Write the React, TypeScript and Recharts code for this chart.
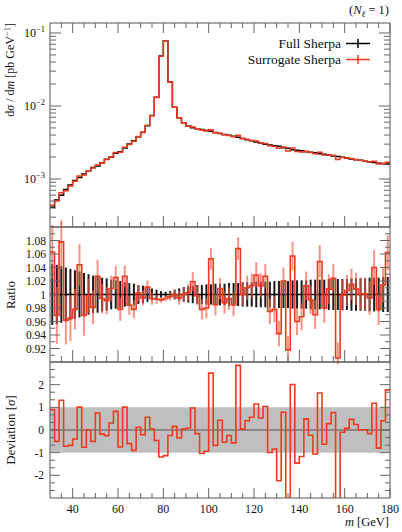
import React from 'react';
import {
  ComposedChart,
  ErrorBar,
  Line,
  ReferenceArea,
  ReferenceLine,
  Scatter,
  XAxis,
  YAxis,
} from 'recharts';

// 2 GeV bins from 30 to 180 GeV
const M_LOW = 30;
const M_HIGH = 180;
const BIN_WIDTH = 2;

// Full Sherpa dσ/dm per bin [pb/GeV]
const fullSherpa = [
  4.1e-4, 5.15e-4, 6.0e-4, 7.2e-4, 8.3e-4, 9.5e-4, 1.05e-3, 1.17e-3, 1.3e-3, 1.44e-3,
  1.51e-3, 1.67e-3, 1.86e-3, 1.98e-3, 2.25e-3, 2.37e-3, 2.66e-3, 3.01e-3, 3.35e-3, 3.8e-3,
  4.36e-3, 5.38e-3, 7.38e-3, 1.32e-2, 4.84e-2, 7.85e-2, 2.13e-2, 9.6e-3, 6.92e-3, 5.91e-3,
  5.32e-3, 5.04e-3, 4.89e-3, 4.78e-3, 4.62e-3, 4.5e-3, 4.35e-3, 4.2e-3, 4.08e-3, 3.96e-3,
  3.84e-3, 3.72e-3, 3.6e-3, 3.46e-3, 3.33e-3, 3.22e-3, 3.1e-3, 2.98e-3, 2.92e-3, 2.86e-3,
  2.8e-3, 2.68e-3, 2.64e-3, 2.52e-3, 2.48e-3, 2.43e-3, 2.36e-3, 2.33e-3, 2.29e-3, 2.21e-3,
  2.18e-3, 2.12e-3, 2.06e-3, 2.04e-3, 1.98e-3, 1.93e-3, 1.88e-3, 1.84e-3, 1.8e-3, 1.75e-3,
  1.72e-3, 1.68e-3, 1.64e-3, 1.62e-3, 1.6e-3,
];

// Surrogate / Full per bin
const ratio = [
  1.063, 0.969, 1.078, 0.962, 0.965, 0.978, 1.044, 0.969, 0.998, 0.981,
  1.027, 0.994, 0.991, 1.009, 1.025, 0.978, 1.027, 0.984, 0.978, 1.002,
  0.995, 1.011, 0.994, 0.993, 0.992, 0.994, 0.997, 1.0, 0.995, 1.0,
  1.003, 1.019, 0.998, 0.978, 0.98, 1.053, 0.985, 1.009, 0.988, 0.994,
  0.985, 1.068, 1.0, 1.01, 1.013, 1.029, 1.013, 1.027, 0.975, 0.978,
  0.942, 1.02, 0.918, 1.057, 0.96, 0.967, 1.013, 0.992, 0.97, 1.049,
  0.98, 1.008, 1.024, 0.906, 0.999, 1.006, 1.015, 1.008, 1.001, 1.001,
  0.995, 1.04, 0.978, 1.014, 1.062,
];

// relative stat. uncertainty of the surrogate (red bars)
const surrogateErr = [
  0.04, 0.042, 0.04, 0.036, 0.034, 0.03, 0.031, 0.03, 0.026, 0.025,
  0.024, 0.022, 0.02, 0.019, 0.018, 0.017, 0.016, 0.014, 0.013, 0.012,
  0.011, 0.01, 0.009, 0.007, 0.004, 0.004, 0.006, 0.008, 0.01, 0.011,
  0.012, 0.014, 0.014, 0.015, 0.015, 0.016, 0.016, 0.016, 0.016, 0.017,
  0.017, 0.017, 0.017, 0.018, 0.018, 0.019, 0.018, 0.018, 0.019, 0.019,
  0.019, 0.02, 0.02, 0.021, 0.02, 0.02, 0.021, 0.021, 0.021, 0.024,
  0.022, 0.022, 0.021, 0.023, 0.023, 0.023, 0.023, 0.024, 0.024, 0.024,
  0.025, 0.026, 0.023, 0.026, 0.026,
];

// relative stat. uncertainty of the full Sherpa reference (black bars)
const fullErr = [
  0.045, 0.044, 0.042, 0.04, 0.038, 0.036, 0.034, 0.032, 0.03, 0.028,
  0.027, 0.025, 0.024, 0.022, 0.021, 0.02, 0.018, 0.017, 0.016, 0.014,
  0.013, 0.011, 0.009, 0.007, 0.005, 0.004, 0.005, 0.007, 0.009, 0.011,
  0.012, 0.013, 0.014, 0.014, 0.015, 0.015, 0.016, 0.016, 0.016, 0.017,
  0.017, 0.017, 0.018, 0.018, 0.018, 0.019, 0.019, 0.019, 0.019, 0.02,
  0.02, 0.02, 0.02, 0.021, 0.021, 0.021, 0.021, 0.022, 0.022, 0.022,
  0.022, 0.023, 0.023, 0.023, 0.023, 0.023, 0.024, 0.024, 0.024, 0.024,
  0.025, 0.025, 0.025, 0.026, 0.026,
];

// deviation in units of sigma
const deviation = [
  0.9, -0.5, 1.31, -0.72, -0.68, -0.4, 1.01, -0.76, 0.01, -0.5,
  0.75, -0.18, -0.25, 0.31, 0.82, -0.75, 1.01, -0.6, -0.9, 0.12,
  -0.21, 0.56, 0.04, -0.46, -1.19, -1.13, -0.24, 0.16, -0.35, 0.04,
  0.09, 0.97, -0.16, -1.04, -0.94, 2.51, -0.68, 0.43, -0.54, -0.24,
  -0.57, 2.85, 0.04, 0.41, 0.56, 1.15, 0.53, 1.04, -0.99, -0.84,
  -2.24, 0.78, -3.6, 2.01, -1.46, -1.17, 0.49, -0.23, -1.06, 1.63,
  -0.63, 0.28, 0.77, -4.0, -0.1, 0.07, 0.47, 0.24, 0.01, 0.01,
  -0.16, 1.18, -0.8, 0.41, 1.77,
];

const N = fullSherpa.length;
const edges = Array.from({ length: N + 1 }, (_, i) => M_LOW + i * BIN_WIDTH);
const centers = edges.slice(0, N).map((e) => e + BIN_WIDTH / 2);

const steps = (vals: number[]) =>
  vals.map((v, i) => ({ x: edges[i], y: v })).concat([{ x: M_HIGH, y: vals[N - 1] }]);

const fullSteps = steps(fullSherpa);
const surrogateSteps = steps(fullSherpa.map((v, i) => v * ratio[i]));
const ratioSteps = steps(ratio);
const devSteps = steps(deviation);
const ratioBars = centers.map((c, i) => ({ x: c, y: ratio[i], err: ratio[i] * 0 + surrogateErr[i] }));
const refBars = centers.map((c, i) => ({ x: c, y: 1, err: fullErr[i] }));

// ticks
const X_TICKS = Array.from({ length: 30 }, (_, i) => 35 + 5 * i);
const LOG_TICKS: number[] = [];
[-4, -3, -2, -1].forEach((d) => {
  for (let m = 1; m <= 9; m++) {
    const v = m * Math.pow(10, d);
    if (v >= 2.2e-4 && v <= 0.137) LOG_TICKS.push(v);
  }
});
const RATIO_TICKS = Array.from({ length: 19 }, (_, i) => Math.round((0.91 + i * 0.01) * 100) / 100);
const DEV_TICKS = Array.from({ length: 17 }, (_, i) => -8 / 3 + i / 3);

const FONT = "'Liberation Serif', 'DejaVu Serif', serif";
const RED = '#ee3a1e';
const RED_BAR = 'rgba(240, 90, 70, 0.65)';
const FRAME = '#555';
const TICK = '#666';
const GAP = 4;

type Side = 'top' | 'bottom' | 'left' | 'right';

function makeTick(
  side: Side,
  isMajor: (v: number) => boolean,
  majorLen: number,
  minorLen: number,
  label?: (v: number, x: number, y: number) => React.ReactNode,
) {
  return (props: any) => {
    const { x, y, payload } = props;
    const v = payload.value;
    const major = isMajor(v);
    const len = major ? majorLen : minorLen;
    let x1 = x, x2 = x, y1 = y, y2 = y;
    if (side === 'bottom') { y1 = y - GAP; y2 = y1 - len; }
    else if (side === 'top') { y1 = y + GAP; y2 = y1 + len; }
    else if (side === 'left') { x1 = x + GAP; x2 = x1 + len; }
    else { x1 = x - GAP; x2 = x1 - len; }
    return (
      <g>
        <line x1={x1} y1={y1} x2={x2} y2={y2} stroke={TICK} strokeWidth={1} />
        {major && label ? label(v, x1, y1) : null}
      </g>
    );
  };
}

const isX20 = (v: number) => v % 20 === 0;
const isDecade = (v: number) => Math.abs(Math.log10(v) - Math.round(Math.log10(v))) < 1e-6;
const isRatioMajor = (v: number) => Math.round(v * 100) % 2 === 0;
const isInt = (v: number) => Math.abs(v - Math.round(v)) < 1e-6;

const txt = { fontFamily: FONT, fill: '#111' };

const logLabel = (v: number, x: number, y: number) => (
  <text x={x - 5} y={y + 4} textAnchor="end" fontSize={12} style={txt}>
    10<tspan dy={-5} fontSize={8.5}>{'\u2212' + Math.round(-Math.log10(v))}</tspan>
  </text>
);
const ratioLabel = (v: number, x: number, y: number) =>
  v > 0.91 && v < 1.09 ? (
    <text x={x - 4} y={y + 4} textAnchor="end" fontSize={11.5} style={txt}>
      {String(Number(v.toFixed(2)))}
    </text>
  ) : null;
const devLabel = (v: number, x: number, y: number) => (
  <text x={x - 6} y={y + 4} textAnchor="end" fontSize={11.5} style={txt}>
    {String(Math.round(v))}
  </text>
);
const xLabel = (v: number, x: number, y: number) => (
  <text x={x} y={y + 15} textAnchor="middle" fontSize={12} style={txt}>
    {String(v)}
  </text>
);

function XAxes({ topHeight, bottomHeight, topTicks, bottomTicks, labels }: any) {
  return null;
}

export default function App() {
  const xDomain = [M_LOW, M_HIGH];
  return (
    <div style={{ position: 'absolute', left: 0, top: 0, width: 402, height: 532, background: '#fff', fontFamily: FONT }}>
      {/* main panel */}
      <div style={{ position: 'absolute', left: 0, top: 0 }}>
        <ComposedChart width={402} height={229} margin={{ top: 0, right: 0, bottom: 0, left: 0 }}>
          <XAxis xAxisId="t" orientation="top" type="number" dataKey="x" domain={xDomain} allowDataOverflow
            height={23} ticks={X_TICKS} interval={0} tickSize={0} tickMargin={GAP} tickLine={false}
            axisLine={{ stroke: FRAME }} tick={makeTick('top', isX20, 10, 5)} />
          <XAxis xAxisId="b" orientation="bottom" type="number" dataKey="x" domain={xDomain} allowDataOverflow
            height={2} ticks={X_TICKS} interval={0} tickSize={0} tickMargin={GAP} tickLine={false}
            axisLine={{ stroke: FRAME }} tick={makeTick('bottom', isX20, 11, 5)} />
          <YAxis yAxisId="l" orientation="left" scale="log" type="number" dataKey="y" domain={[2.2e-4, 0.137]}
            allowDataOverflow width={50} ticks={LOG_TICKS} interval={0} tickSize={0} tickMargin={GAP}
            tickLine={false} axisLine={{ stroke: FRAME }} tick={makeTick('left', isDecade, 11, 6, logLabel)} />
          <YAxis yAxisId="r" orientation="right" scale="log" type="number" dataKey="y" domain={[2.2e-4, 0.137]}
            allowDataOverflow width={12} ticks={LOG_TICKS} interval={0} tickSize={0} tickMargin={GAP}
            tickLine={false} axisLine={{ stroke: FRAME }} tick={makeTick('right', isDecade, 11, 6)} />
          <Line data={fullSteps} xAxisId="b" yAxisId="l" type="stepAfter" dataKey="y" stroke="#000"
            strokeWidth={1.5} dot={false} activeDot={false} isAnimationActive={false} />
          <Line data={surrogateSteps} xAxisId="b" yAxisId="l" type="stepAfter" dataKey="y" stroke={RED}
            strokeWidth={1.5} dot={false} activeDot={false} isAnimationActive={false} />
        </ComposedChart>
      </div>

      {/* ratio panel */}
      <div style={{ position: 'absolute', left: 0, top: 220 }}>
        <ComposedChart width={402} height={144} margin={{ top: 0, right: 0, bottom: 0, left: 0 }}>
          <XAxis xAxisId="t" orientation="top" type="number" dataKey="x" domain={xDomain} allowDataOverflow
            height={7} tick={false} tickLine={false} axisLine={{ stroke: FRAME }} />
          <XAxis xAxisId="b" orientation="bottom" type="number" dataKey="x" domain={xDomain} allowDataOverflow
            height={2} ticks={X_TICKS} interval={0} tickSize={0} tickMargin={GAP} tickLine={false}
            axisLine={{ stroke: FRAME }} tick={makeTick('bottom', isX20, 12, 6)} />
          <YAxis yAxisId="l" orientation="left" type="number" dataKey="y" domain={[0.9, 1.1]} allowDataOverflow
            width={50} ticks={RATIO_TICKS} interval={0} tickSize={0} tickMargin={GAP} tickLine={false}
            axisLine={{ stroke: FRAME }} tick={makeTick('left', isRatioMajor, 10, 5, ratioLabel)} />
          <YAxis yAxisId="r" orientation="right" type="number" dataKey="y" domain={[0.9, 1.1]} allowDataOverflow
            width={12} ticks={RATIO_TICKS} interval={0} tickSize={0} tickMargin={GAP} tickLine={false}
            axisLine={{ stroke: FRAME }} tick={makeTick('right', isRatioMajor, 10, 5)} />
          <Scatter data={refBars} xAxisId="b" yAxisId="l" dataKey="y" shape={() => <g />} isAnimationActive={false}>
            <ErrorBar dataKey="err" direction="y" width={0} stroke="#1a1a1a" strokeWidth={2} isAnimationActive={false} />
          </Scatter>
          <ReferenceLine xAxisId="b" yAxisId="l" y={1} stroke="#000" strokeWidth={1.6} />
          <Scatter data={ratioBars} xAxisId="b" yAxisId="l" dataKey="y" shape={() => <g />} isAnimationActive={false}>
            <ErrorBar dataKey="err" direction="y" width={0} stroke={RED_BAR} strokeWidth={2} isAnimationActive={false} />
          </Scatter>
          <Line data={ratioSteps} xAxisId="b" yAxisId="l" type="stepAfter" dataKey="y" stroke={RED}
            strokeWidth={1.6} dot={false} activeDot={false} isAnimationActive={false} />
        </ComposedChart>
      </div>

      {/* deviation panel */}
      <div style={{ position: 'absolute', left: 0, top: 355 }}>
        <ComposedChart width={402} height={177} margin={{ top: 0, right: 0, bottom: 0, left: 0 }}>
          <XAxis xAxisId="t" orientation="top" type="number" dataKey="x" domain={xDomain} allowDataOverflow
            height={7} tick={false} tickLine={false} axisLine={{ stroke: FRAME }} />
          <XAxis xAxisId="b" orientation="bottom" type="number" dataKey="x" domain={xDomain} allowDataOverflow
            height={34} ticks={X_TICKS} interval={0} tickSize={0} tickMargin={GAP} tickLine={false}
            axisLine={{ stroke: FRAME }} tick={makeTick('bottom', isX20, 10, 5, xLabel)} />
          <YAxis yAxisId="l" orientation="left" type="number" dataKey="y" domain={[-3, 3]} allowDataOverflow
            width={50} ticks={DEV_TICKS} interval={0} tickSize={0} tickMargin={GAP} tickLine={false}
            axisLine={{ stroke: FRAME }} tick={makeTick('left', isInt, 10, 5, devLabel)} />
          <YAxis yAxisId="r" orientation="right" type="number" dataKey="y" domain={[-3, 3]} allowDataOverflow
            width={12} ticks={DEV_TICKS} interval={0} tickSize={0} tickMargin={GAP} tickLine={false}
            axisLine={{ stroke: FRAME }} tick={makeTick('right', isInt, 10, 5)} />
          <ReferenceArea xAxisId="b" yAxisId="l" x1={M_LOW} x2={M_HIGH} y1={-1} y2={1} fill="#bfbfbf"
            fillOpacity={1} stroke="none" />
          <ReferenceLine xAxisId="b" yAxisId="l" y={0} stroke="#555" strokeWidth={1} />
          <Line data={devSteps} xAxisId="b" yAxisId="l" type="stepAfter" dataKey="y" stroke={RED}
            strokeWidth={1.6} dot={false} activeDot={false} isAnimationActive={false} />
        </ComposedChart>
      </div>

      {/* titles, axis labels, legend */}
      <svg width={402} height={532} style={{ position: 'absolute', left: 0, top: 0, pointerEvents: 'none' }}>
        <g style={txt}>
          <text x={389} y={14} textAnchor="end" fontSize={12.5}>
            (<tspan fontStyle="italic">N</tspan>
            <tspan fontSize={9} dy={3} fontStyle="italic">{'\u2113'}</tspan>
            <tspan dy={-3}> = 1)</tspan>
          </text>
          <text transform="rotate(-90)" x={-23} y={14} textAnchor="end" fontSize={12}>
            d<tspan fontStyle="italic">{'\u03c3'}</tspan> / d<tspan fontStyle="italic">m</tspan> [pb GeV
            <tspan dy={-4} fontSize={8.5}>{'\u22121'}</tspan>
            <tspan dy={4}>]</tspan>
          </text>
          <text transform="rotate(-90)" x={-295} y={15} textAnchor="middle" fontSize={13}>Ratio</text>
          <text transform="rotate(-90)" x={-430} y={15} textAnchor="middle" fontSize={13}>
            Deviation [<tspan fontStyle="italic">{'\u03c3'}</tspan>]
          </text>
          <text x={389} y={526} textAnchor="end" fontSize={12.5}>
            <tspan fontStyle="italic">m</tspan> [GeV]
          </text>
          <text x={341} y={48} textAnchor="end" fontSize={13.5}>Full Sherpa</text>
          <text x={341} y={64} textAnchor="end" fontSize={13.5}>Surrogate Sherpa</text>
        </g>
        <line x1={346} x2={370} y1={43.5} y2={43.5} stroke="#000" strokeWidth={1.5} />
        <line x1={358} x2={358} y1={39} y2={48} stroke="#000" strokeWidth={1.5} />
        <line x1={346} x2={370} y1={59.5} y2={59.5} stroke={RED} strokeWidth={1.5} />
        <line x1={358} x2={358} y1={55} y2={64} stroke={RED} strokeWidth={1.5} />
      </svg>
    </div>
  );
}
